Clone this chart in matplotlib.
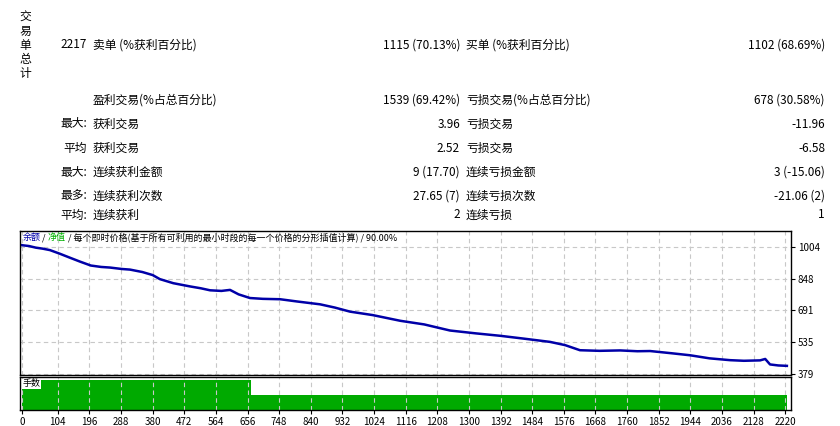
import matplotlib
matplotlib.use("Agg")
import matplotlib.pyplot as plt
import numpy as np

plt.rcParams['font.family'] = ['Noto Sans CJK SC', 'DejaVu Sans']

# table data
rows = [
    ("2217", "卖单 (%获利百分比)", "1115 (70.13%)", "买单 (%获利百分比)", "1102 (68.69%)"),
    ("", "盈利交易(%占总百分比)", "1539 (69.42%)", "亏损交易(%占总百分比)", "678 (30.58%)"),
    ("最大:", "获利交易", "3.96", "亏损交易", "-11.96"),
    ("平均", "获利交易", "2.52", "亏损交易", "-6.58"),
    ("最大:", "连续获利金额", "9 (17.70)", "连续亏损金额", "3 (-15.06)"),
    ("最多:", "连续获利次数", "27.65 (7)", "连续亏损次数", "-21.06 (2)"),
    ("平均:", "连续获利", "2", "连续亏损", "1"),
]
row_y = [45, 100, 124, 148, 172, 196, 215]

trades = [0, 20, 40, 60, 81, 110, 140, 169, 200, 230, 256, 290, 314, 350, 380, 401, 440, 489, 520, 547, 580,
          605, 630, 663, 700, 751, 800, 867, 910, 954, 1020, 1100, 1170, 1245, 1320, 1391, 1460, 1536, 1580,
          1623, 1680, 1740, 1790, 1827, 1890, 1944, 2000, 2060, 2100, 2147, 2162, 2176, 2200, 2225]
balance = [1012, 1008, 1000, 995, 988, 970, 950, 931, 912, 905, 902, 895, 892, 880, 865, 845, 825, 809, 800, 790, 787,
           792, 770, 752, 748, 746, 735, 721, 705, 685, 668, 640, 622, 592, 578, 566, 552, 536, 520,
           495, 492, 494, 490, 491, 480, 470, 455, 446, 443, 445, 452, 425, 420, 418]
lot_x = [0, 665, 665, 2225]
lot_v = [0.2, 0.2, 0.1, 0.1]
xticks = [0] + list(range(104, 2221, 92))
yticks = [379, 535, 691, 848, 1004]

W, H = 840, 426
fig = plt.figure(figsize=(8.4, 4.26), dpi=100)

def fx(px): return px / W
def fy(py): return 1 - py / H

fs = 8.5
for ch, y in zip("交易单总计", [17, 31, 45, 59, 73]):
    fig.text(fx(25), fy(y), ch, ha='center', va='center', fontsize=fs)
for (a, b, c, d, e), y in zip(rows, row_y):
    fig.text(fx(87), fy(y), a, ha='right', va='center', fontsize=fs)
    fig.text(fx(93), fy(y), b, ha='left', va='center', fontsize=fs)
    fig.text(fx(460), fy(y), c, ha='right', va='center', fontsize=fs)
    fig.text(fx(466), fy(y), d, ha='left', va='center', fontsize=fs)
    fig.text(fx(825), fy(y), e, ha='right', va='center', fontsize=fs)

L, R = 20, 791
ax = fig.add_axes([fx(L), fy(375), fx(R - L), (375 - 231) / H])
ax.plot(trades, balance, color='#0000a8', lw=1.8)
ax.set_xlim(-6, 2237)
ax.set_ylim(373, 1082)
ax.set_xticks(xticks)
ax.set_yticks(yticks)
ax.yaxis.tick_right()
ax.tick_params(axis='y', labelsize=7, length=3, pad=2)
ax.tick_params(axis='x', labelbottom=False, length=0)
ax.grid(True, ls=(0, (4, 3)), color='#c8c8c8', lw=0.8)
for s in ax.spines.values():
    s.set_color('black'); s.set_linewidth(1)
hfs = 6.5
t1 = ax.text(0.003, 0.985, "余额", color='#0000a8', transform=ax.transAxes, fontsize=hfs, va='top')
t2 = ax.annotate(" / ", xy=(1, 0), xycoords=t1, va='bottom', fontsize=hfs, color='black')
t3 = ax.annotate("净值", xy=(1, 0), xycoords=t2, va='bottom', fontsize=hfs, color='#00b000')
ax.annotate(" / 每个即时价格(基于所有可利用的最小时段的每一个价格的分形插值计算) / 90.00%",
            xy=(1, 0), xycoords=t3, va='bottom', fontsize=hfs, color='black')

ax2 = fig.add_axes([fx(L), fy(410), fx(R - L), (410 - 377) / H])
ax2.fill_between(lot_x, 0, lot_v, color='#00aa00', lw=0)
ax2.set_xlim(-6, 2237)
ax2.set_ylim(0, 0.22)
ax2.set_xticks(xticks)
ax2.set_xticklabels([str(t) for t in xticks], fontsize=7)
ax2.tick_params(axis='x', length=3, pad=2)
ax2.set_yticks([])
ax2.grid(True, axis='x', ls=(0, (4, 3)), color='#c8c8c8', lw=0.8)
for s in ax2.spines.values():
    s.set_color('black'); s.set_linewidth(1)
ax2.text(0.003, 0.93, "手数", transform=ax2.transAxes, fontsize=6.5, va='top',
         bbox=dict(facecolor='white', edgecolor='none', pad=0.5))

fig.savefig("out.png", dpi=100)
